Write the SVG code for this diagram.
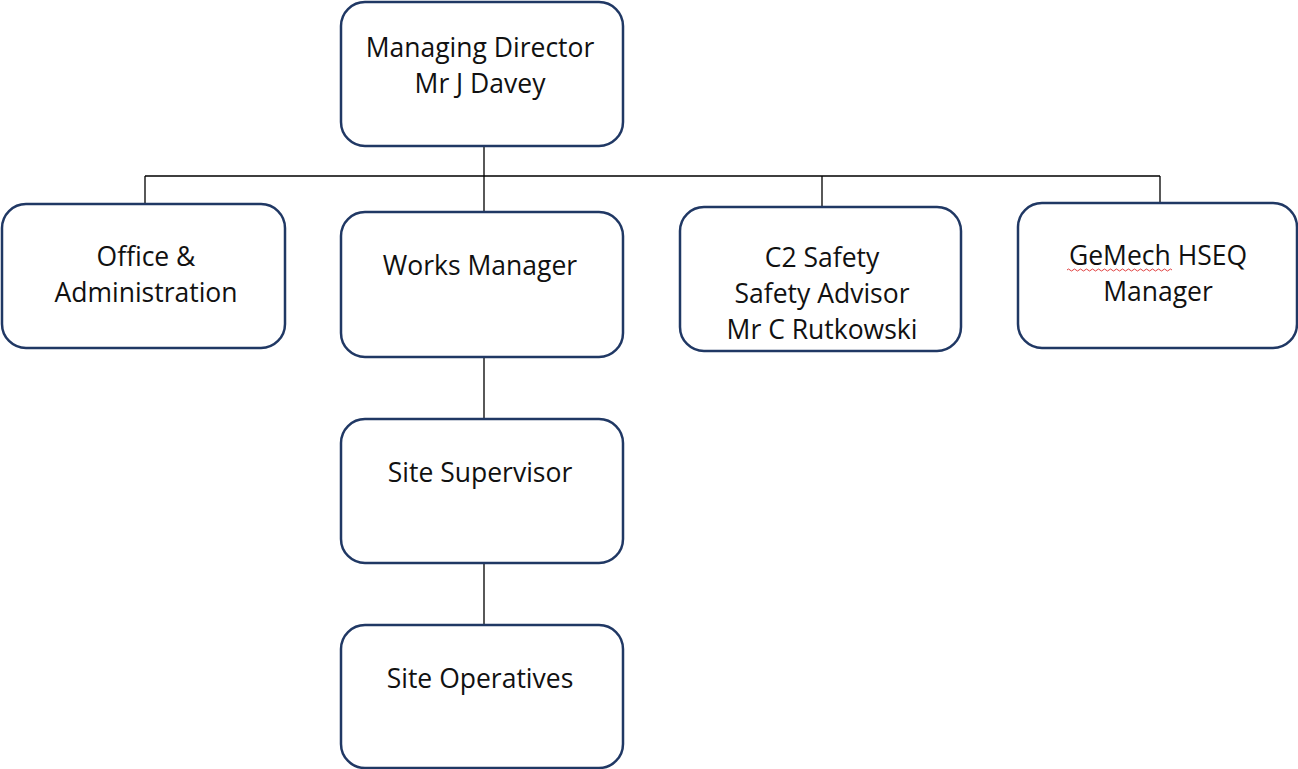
<svg xmlns="http://www.w3.org/2000/svg" width="1298" height="769" viewBox="0 0 1298 769">
<style>
.box{fill:#fff;stroke:#203864;stroke-width:2.5}
.t{font-family:"Open Sans","Liberation Sans",sans-serif;font-size:26.5px;fill:#111;text-anchor:middle}
.c{stroke:#000;stroke-width:1.3;fill:none}
</style>
<rect width="1298" height="769" fill="#fff"/>
<g id="connectors">
<path class="c" d="M484 146V176M145 176H1160M145 176V204M484 176V212M822 176V207M1160 176V203M484 357V419M484 563V625"/>
</g>
<g id="md"><rect class="box" x="341" y="2" width="282" height="144" rx="24"/>
<text class="t" x="480" y="57">Managing Director</text><text class="t" x="480" y="93">Mr J Davey</text></g>
<g id="office"><rect class="box" x="2" y="204" width="283" height="144" rx="24"/>
<text class="t" x="146" y="266">Office &amp;</text><text class="t" x="146" y="302">Administration</text></g>
<g id="works"><rect class="box" x="341" y="212" width="282" height="145" rx="24"/>
<text class="t" x="480" y="275">Works Manager</text></g>
<g id="c2"><rect class="box" x="680" y="207" width="281" height="144" rx="24"/>
<text class="t" x="822" y="267">C2 Safety</text><text class="t" x="822" y="303">Safety Advisor</text><text class="t" x="822" y="339">Mr C Rutkowski</text></g>
<g id="gemech"><rect class="box" x="1018" y="203" width="279" height="145" rx="24"/>
<text class="t" x="1158" y="265">GeMech HSEQ</text><text class="t" x="1158" y="301">Manager</text>
<path d="M1067 270q1.5-2 3 0t3 0t3 0t3 0t3 0t3 0t3 0t3 0t3 0t3 0t3 0t3 0t3 0t3 0t3 0t3 0t3 0t3 0t3 0t3 0t3 0t3 0t3 0t3 0t3 0t3 0t3 0t3 0t3 0t3 0t3 0t3 0t3 0t3 0t3 0" fill="none" stroke="#e04040" stroke-width="1"/></g>
<g id="sup"><rect class="box" x="341" y="419" width="282" height="144" rx="24"/>
<text class="t" x="480" y="482">Site Supervisor</text></g>
<g id="ops"><rect class="box" x="341" y="625" width="282" height="143" rx="24"/>
<text class="t" x="480" y="688">Site Operatives</text></g>
</svg>
